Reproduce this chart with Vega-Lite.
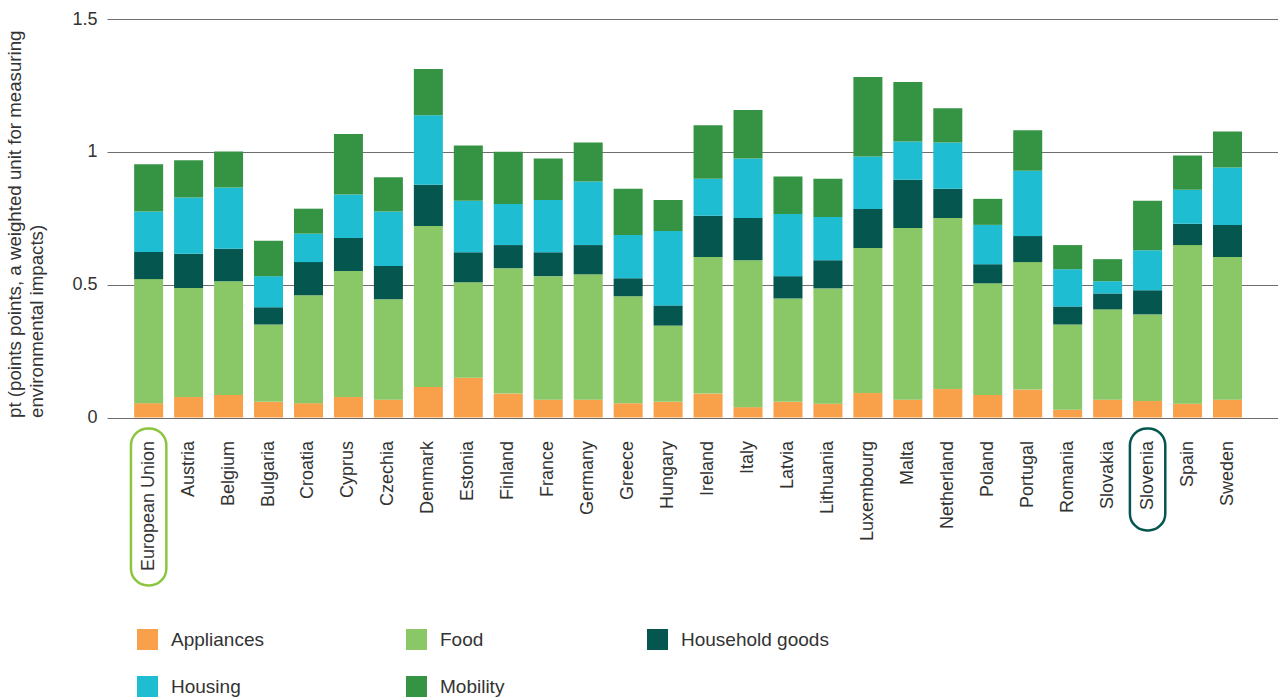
{
  "$schema": "https://vega.github.io/schema/vega-lite/v6.json",
  "width": 1171,
  "height": 398.5,
  "autosize": {"type": "none"},
  "padding": {"left": 107, "top": 19, "right": 0, "bottom": 282.5},
  "config": {
    "font": "Liberation Sans",
    "view": {"stroke": null},
    "axis": {"labelColor": "#333333", "titleColor": "#333333", "titleFontWeight": "normal"}
  },
  "data": {
    "values": [
      {"country": "European Union", "Appliances": 0.054, "Food": 0.467, "Household goods": 0.102, "Housing": 0.152, "Mobility": 0.178},
      {"country": "Austria", "Appliances": 0.077, "Food": 0.410, "Household goods": 0.129, "Housing": 0.212, "Mobility": 0.140},
      {"country": "Belgium", "Appliances": 0.085, "Food": 0.428, "Household goods": 0.122, "Housing": 0.231, "Mobility": 0.135},
      {"country": "Bulgaria", "Appliances": 0.059, "Food": 0.291, "Household goods": 0.065, "Housing": 0.117, "Mobility": 0.133},
      {"country": "Croatia", "Appliances": 0.054, "Food": 0.406, "Household goods": 0.125, "Housing": 0.107, "Mobility": 0.094},
      {"country": "Cyprus", "Appliances": 0.077, "Food": 0.474, "Household goods": 0.125, "Housing": 0.163, "Mobility": 0.228},
      {"country": "Czechia", "Appliances": 0.067, "Food": 0.378, "Household goods": 0.125, "Housing": 0.205, "Mobility": 0.129},
      {"country": "Denmark", "Appliances": 0.115, "Food": 0.606, "Household goods": 0.155, "Housing": 0.262, "Mobility": 0.174},
      {"country": "Estonia", "Appliances": 0.150, "Food": 0.359, "Household goods": 0.113, "Housing": 0.194, "Mobility": 0.208},
      {"country": "Finland", "Appliances": 0.090, "Food": 0.472, "Household goods": 0.087, "Housing": 0.155, "Mobility": 0.196},
      {"country": "France", "Appliances": 0.067, "Food": 0.465, "Household goods": 0.090, "Housing": 0.197, "Mobility": 0.156},
      {"country": "Germany", "Appliances": 0.067, "Food": 0.472, "Household goods": 0.110, "Housing": 0.239, "Mobility": 0.147},
      {"country": "Greece", "Appliances": 0.054, "Food": 0.402, "Household goods": 0.068, "Housing": 0.163, "Mobility": 0.174},
      {"country": "Hungary", "Appliances": 0.059, "Food": 0.287, "Household goods": 0.076, "Housing": 0.280, "Mobility": 0.117},
      {"country": "Ireland", "Appliances": 0.090, "Food": 0.514, "Household goods": 0.155, "Housing": 0.140, "Mobility": 0.201},
      {"country": "Italy", "Appliances": 0.039, "Food": 0.553, "Household goods": 0.159, "Housing": 0.224, "Mobility": 0.182},
      {"country": "Latvia", "Appliances": 0.059, "Food": 0.389, "Household goods": 0.084, "Housing": 0.234, "Mobility": 0.141},
      {"country": "Lithuania", "Appliances": 0.052, "Food": 0.434, "Household goods": 0.106, "Housing": 0.163, "Mobility": 0.144},
      {"country": "Luxembourg", "Appliances": 0.092, "Food": 0.546, "Household goods": 0.147, "Housing": 0.197, "Mobility": 0.300},
      {"country": "Malta", "Appliances": 0.067, "Food": 0.646, "Household goods": 0.182, "Housing": 0.144, "Mobility": 0.224},
      {"country": "Netherland", "Appliances": 0.107, "Food": 0.644, "Household goods": 0.110, "Housing": 0.174, "Mobility": 0.129},
      {"country": "Poland", "Appliances": 0.085, "Food": 0.420, "Household goods": 0.072, "Housing": 0.148, "Mobility": 0.098},
      {"country": "Portugal", "Appliances": 0.105, "Food": 0.480, "Household goods": 0.098, "Housing": 0.246, "Mobility": 0.152},
      {"country": "Romania", "Appliances": 0.029, "Food": 0.321, "Household goods": 0.068, "Housing": 0.140, "Mobility": 0.091},
      {"country": "Slovakia", "Appliances": 0.067, "Food": 0.340, "Household goods": 0.060, "Housing": 0.046, "Mobility": 0.083},
      {"country": "Slovenia", "Appliances": 0.062, "Food": 0.326, "Household goods": 0.091, "Housing": 0.151, "Mobility": 0.186},
      {"country": "Spain", "Appliances": 0.052, "Food": 0.597, "Household goods": 0.080, "Housing": 0.128, "Mobility": 0.129},
      {"country": "Sweden", "Appliances": 0.067, "Food": 0.537, "Household goods": 0.121, "Housing": 0.216, "Mobility": 0.136}
    ]
  },
  "layer": [
    {
      "transform": [{"fold": ["Appliances", "Food", "Household goods", "Housing", "Mobility"], "as": ["category", "value"]}],
      "mark": {"type": "bar"},
      "encoding": {
        "x": {
          "field": "country",
          "type": "nominal",
          "scale": {
            "domain": ["European Union", "Austria", "Belgium", "Bulgaria", "Croatia", "Cyprus", "Czechia", "Denmark", "Estonia", "Finland", "France", "Germany", "Greece", "Hungary", "Ireland", "Italy", "Latvia", "Lithuania", "Luxembourg", "Malta", "Netherland", "Poland", "Portugal", "Romania", "Slovakia", "Slovenia", "Spain", "Sweden"],
            "paddingInner": 0.274,
            "paddingOuter": 0.79,
            "align": 0.43
          },
          "axis": {"title": null, "labelAngle": -90, "labelFontSize": 18, "labelPadding": 23, "ticks": false, "domain": false}
        },
        "y": {
          "field": "value",
          "type": "quantitative",
          "stack": "zero",
          "scale": {"domain": [0, 1.5], "nice": false},
          "axis": {
            "values": [0, 0.5, 1, 1.5],
            "format": "~g",
            "grid": true,
            "gridColor": "#6e6e6e",
            "gridWidth": 1,
            "gridOpacity": 1,
            "ticks": false,
            "domain": false,
            "labelPadding": 10,
            "labelFontSize": 18,
            "title": ["pt (points points, a weighted unit for measuring", "environmental impacts)"],
            "titleFontSize": 18.7,
            "titleAnchor": "start",
            "titlePadding": 25,
            "titleLineHeight": 22
          }
        },
        "order": {"field": "category", "sort": "ascending"},
        "color": {
          "field": "category",
          "type": "nominal",
          "scale": {
            "domain": ["Appliances", "Food", "Household goods", "Housing", "Mobility"],
            "range": ["#f8a14a", "#8ac767", "#04564f", "#1ebdd1", "#359443"]
          },
          "legend": {
            "title": null,
            "orient": "none",
            "legendX": 30,
            "legendY": 610,
            "direction": "horizontal",
            "columns": 3,
            "symbolType": "square",
            "symbolSize": 441,
            "symbolStrokeWidth": 0,
            "labelFontSize": 19,
            "labelOffset": 13,
            "labelColor": "#333333",
            "labelLimit": 300,
            "columnPadding": 142,
            "rowPadding": 26,
            "padding": 0
          }
        }
      }
    },
    {
      "transform": [{"filter": "datum.country === 'European Union'"}],
      "mark": {"type": "bar", "fill": "white", "fillOpacity": 0, "stroke": "#8cc63f", "strokeWidth": 2.5, "cornerRadius": 17, "width": {"band": 1.22}},
      "encoding": {
        "x": {"field": "country", "type": "nominal"},
        "y": {"datum": -0.041},
        "y2": {"datum": -0.632}
      }
    },
    {
      "transform": [{"filter": "datum.country === 'Slovenia'"}],
      "mark": {"type": "bar", "fill": "white", "fillOpacity": 0, "stroke": "#04564f", "strokeWidth": 2.5, "cornerRadius": 17, "width": {"band": 1.22}},
      "encoding": {
        "x": {"field": "country", "type": "nominal"},
        "y": {"datum": -0.041},
        "y2": {"datum": -0.425}
      }
    }
  ]
}
